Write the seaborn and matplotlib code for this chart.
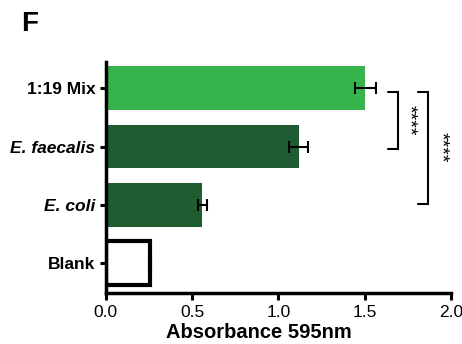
import matplotlib
matplotlib.use("Agg")
import matplotlib.pyplot as plt
import seaborn as sns
import pandas as pd

categories = ["1:19 Mix", "E. faecalis", "E. coli", "Blank"]
values = [1.505, 1.118, 0.560, 0.255]
errors = [0.058, 0.055, 0.025, 0.005]
colors = ["#36b44b", "#1e5d31", "#1e5d31", "#ffffff"]
xticks = [0.0, 0.5, 1.0, 1.5, 2.0]

sns.set_style("ticks")
plt.rcParams["font.family"] = ["Liberation Sans", "DejaVu Sans"]
plt.rcParams.update({
    "text.color": "black", "axes.labelcolor": "black", "axes.edgecolor": "black",
    "xtick.color": "black", "ytick.color": "black",
})

df = pd.DataFrame({"cat": categories, "val": values})

fig = plt.figure(figsize=(4.62, 3.44), dpi=100)
ax = fig.add_axes([0.229, 0.148, 0.747, 0.672])

sns.barplot(data=df, x="val", y="cat", hue="cat", palette=colors, order=categories,
            width=0.75, legend=False, ax=ax, errorbar=None, saturation=1)

for i, p in enumerate(ax.patches):
    if categories[i] == "Blank":
        p.set_edgecolor("black")
        p.set_linewidth(3)
    else:
        p.set_edgecolor("none")

ax.errorbar(values, range(len(categories)), xerr=errors, fmt="none",
            ecolor="black", elinewidth=1.5, capsize=4, capthick=1.5)

ax.set_xlim(0, 2.0)
ax.set_ylim(3.51, -0.45)
ax.set_xticks(xticks)
ax.set_xticklabels([f"{t:.1f}" for t in xticks], fontsize=12.5)
ax.set_xlabel("Absorbance 595nm", fontsize=14.5, fontweight="bold")
ax.xaxis.set_label_coords(0.443, -0.13)
ax.set_ylabel("")

labels = ax.get_yticklabels()
for lab in labels:
    lab.set_fontweight("bold")
    lab.set_fontsize(12.5)
    if lab.get_text().startswith("E."):
        lab.set_fontstyle("italic")

for s in ["top", "right"]:
    ax.spines[s].set_visible(False)
for s in ["left", "bottom"]:
    ax.spines[s].set_linewidth(2.5)
ax.tick_params(axis="x", width=2.2, length=5)
ax.tick_params(axis="y", width=2.2, length=4)

# significance brackets
def bracket(x, y0, y1, tick):
    ax.plot([x - tick, x, x, x - tick], [y0, y0, y1, y1], color="black", lw=1.5,
            clip_on=False, solid_joinstyle="miter")

bracket(1.693, 0.07, 1.04, 0.06)
ax.text(1.755, 0.55, "****", rotation=270, ha="center", va="center", fontsize=14)
bracket(1.867, 0.07, 1.98, 0.06)
ax.text(1.94, 1.02, "****", rotation=270, ha="center", va="center", fontsize=14)

fig.text(0.045, 0.93, "F", fontsize=20, fontweight="bold", ha="left", va="center")

fig.savefig("out.png", dpi=100)
